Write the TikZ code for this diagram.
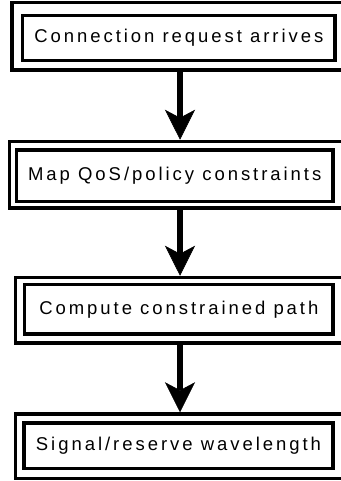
\documentclass[tikz,border=0pt]{standalone}
\usepackage{fontspec}
\setmainfont{Liberation Sans}
\newfontfamily\boxfont[LetterSpace=16]{Liberation Sans}
\usetikzlibrary{arrows.meta}
\begin{document}
\begin{tikzpicture}[x=1pt,y=-1pt,
  outerbox/.style={draw, line width=3.5pt, inner sep=0pt},
  innerbox/.style={draw, line width=3.5pt, inner sep=0pt,
    font=\boxfont\fontsize{18.5}{20}\selectfont, text height=13.5pt, text depth=3.5pt},
  arr/.style={line width=5.5pt, -{Stealth[length=30pt,width=30pt,inset=8pt,line width=0.5pt]}}
]
\useasboundingbox (0,0) rectangle (340,481);
\node[outerbox, minimum width=336pt, minimum height=67.5pt] (o1) at (180,36.25) {};
\node[innerbox, minimum width=312.3pt, minimum height=45pt] (b1) at (178.85,37.8) {Connection request arrives};
\node[outerbox, minimum width=341pt, minimum height=66.5pt] (o2) at (180,174.75) {};
\node[innerbox, minimum width=316.5pt, minimum height=51.5pt] (b2) at (174.75,175.75) {Map QoS/policy constraints};
\node[outerbox, minimum width=329.4pt, minimum height=65.5pt] (o3) at (180,310.25) {};
\node[innerbox, minimum width=308.3pt, minimum height=49.5pt] (b3) at (178.85,309.25) {Compute constrained path};
\node[outerbox, minimum width=329.4pt, minimum height=64.5pt] (o4) at (180,446.25) {};
\node[innerbox, minimum width=309pt, minimum height=45.5pt] (b4) at (178.5,445.75) {Signal/reserve wavelength};
\draw[arr] (o1.south) -- (o2.north);
\draw[arr] (o2.south) -- (o3.north);
\draw[arr] (o3.south) -- (o4.north);
\end{tikzpicture}
\end{document}
